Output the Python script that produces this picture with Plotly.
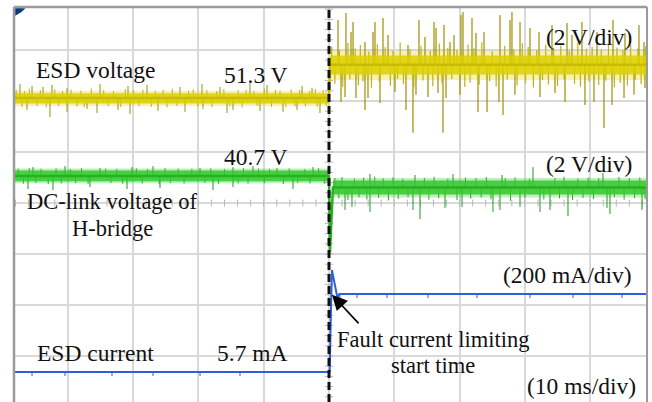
import plotly.graph_objects as go

# ---------------- time base (ms, fault at t = 0, 10 ms/div) ----------------
T_START, T_END = -48.24, 48.70

# ---------------- ESD voltage (2 V/div) ----------------
esd_v_level = [51.3, 52.6]                 # before / after fault
esd_v_core_before = [51.08, 51.48]
esd_v_core_after = [52.22, 52.96]
esd_v_fuzz_before = [50.98, 51.58]
esd_v_fuzz_after = [52.00, 53.15]
# large excursions
esd_v_spk_t_before = [-47.32, -45.48, -43.80, -42.42, -40.12, -35.07, -30.78, -27.87, -22.82,
                      -19.45, -16.69, -12.10, -9.49, -4.13, -2.60,
                      -46.25, -42.73, -40.12, -37.06, -35.53, -32.31, -30.47, -26.19, -22.05,
                      -19.30, -15.62, -14.70, -10.57, -7.04, -4.90, -1.38]
esd_v_spk_v_before = [51.85, 51.77, 51.73, 51.81, 51.69, 51.85, 51.77, 51.81, 51.73,
                      51.85, 51.73, 51.89, 51.81, 51.77, 51.69,
                      50.83, 50.55, 50.75, 50.87, 50.71, 50.83, 50.67, 50.79, 50.75,
                      50.87, 50.71, 50.83, 50.79, 50.75, 50.83, 50.71]
esd_v_spk_t_after = [1.38, 2.60, 3.37, 3.68, 5.51, 6.74, 7.04, 8.27, 9.04, 12.10, 13.78, 14.70,
                     16.08, 16.39, 17.61, 18.53, 19.14, 20.21, 20.52, 21.90, 22.51, 23.74,
                     26.19, 27.72, 28.02, 29.25, 30.78, 32.16, 34.15, 36.45, 37.21, 38.74,
                     41.04, 43.49, 45.33, 47.47, 48.24,
                     1.84, 2.45, 4.13, 5.51, 5.97, 7.81, 10.11, 11.79, 12.86, 13.32, 15.16,
                     16.69, 17.46, 17.92, 20.06, 22.82, 24.20, 26.03, 26.65, 28.48, 32.31,
                     34.61, 36.14, 39.20, 40.58, 42.11, 43.34, 45.18, 46.71, 48.39]
esd_v_spk_v_after = [54.36, 54.63, 53.89, 54.28, 53.49, 53.89, 54.28, 54.43, 53.77, 53.38, 54.36, 53.69,
                     54.28, 54.04, 54.16, 53.49, 53.77, 54.55, 54.67, 54.43, 53.85, 53.89,
                     54.55, 54.36, 54.67, 54.28, 54.04, 53.89, 54.16, 54.24, 53.77, 54.28,
                     53.89, 54.36, 53.85, 54.16, 53.49,
                     51.14, 51.34, 51.30, 50.83, 51.30, 51.10, 51.53, 50.83, 49.93, 51.42, 51.34,
                     51.49, 49.93, 51.30, 51.42, 50.75, 50.75, 51.14, 50.63, 51.42, 51.34,
                     51.49, 51.14, 51.02, 51.14, 50.12, 51.02, 51.30, 51.42, 51.69]
# smaller excursions
esd_v_mid_t_before = [-47.9, -47.0, -46.6, -45.9, -44.7, -44.2, -43.3, -42.0, -41.4, -40.8,
                      -39.5, -38.6, -38.0, -37.5, -36.4, -34.5, -33.8, -33.0, -31.9, -31.2,
                      -29.9, -29.1, -28.5, -27.2, -26.6, -25.4, -24.8, -24.0, -23.3, -21.5,
                      -20.8, -20.1, -18.7, -17.9, -17.2, -16.1, -15.2, -13.9, -13.3, -12.7,
                      -11.5, -11.0, -9.9, -8.8, -8.2, -7.5, -6.6, -5.8, -5.2, -4.5,
                      -3.6, -3.0, -2.1, -1.8, -0.9, -0.4]
esd_v_mid_v_before = [51.62, 50.95, 51.58, 51.66, 50.98, 51.60, 50.93, 51.64, 50.99, 51.57,
                      51.63, 50.96, 51.59, 50.92, 51.67, 51.61, 50.97, 51.56, 50.94, 51.65,
                      51.60, 50.98, 51.63, 50.95, 51.58, 51.62, 50.93, 51.66, 50.99, 51.59,
                      51.64, 50.96, 51.61, 50.94, 51.57, 51.65, 50.97, 51.60, 50.92, 51.63,
                      51.58, 50.98, 51.66, 50.95, 51.62, 51.59, 50.93, 51.64, 50.97, 51.61,
                      50.96, 51.57, 51.65, 50.94, 51.60, 50.99]
esd_v_mid_t_after = [0.4, 0.9, 1.6, 2.1, 2.9, 3.2, 4.0, 4.5, 4.8, 5.2, 6.1, 6.5, 7.4, 7.7,
                     8.6, 9.4, 9.8, 10.5, 10.9, 11.4, 12.4, 13.0, 14.1, 14.4, 15.5, 15.9,
                     16.9, 17.3, 18.2, 18.8, 19.6, 20.8, 21.3, 21.6, 22.2, 23.0, 23.4, 24.6,
                     25.0, 25.6, 26.9, 27.3, 28.3, 28.8, 29.6, 30.1, 30.5, 31.3, 31.8, 32.7,
                     33.2, 33.6, 34.4, 35.0, 35.5, 36.0, 36.8, 37.6, 38.1, 38.5, 39.4, 39.8,
                     40.3, 41.3, 41.7, 42.4, 42.8, 43.7, 44.1, 44.6, 45.0, 45.7, 46.2, 46.9,
                     47.3, 47.8, 48.5]
esd_v_mid_v_after = [53.32, 51.86, 53.18, 51.74, 53.45, 52.02, 53.24, 51.80, 53.38, 51.95, 53.12, 51.70,
                     53.41, 51.92, 53.29, 51.78, 53.16, 52.05, 53.47, 51.84, 53.22, 51.72,
                     53.35, 51.98, 53.14, 51.76, 53.43, 51.88, 53.27, 52.04, 53.19, 51.73,
                     53.39, 51.90, 53.25, 51.82, 53.48, 51.96, 53.13, 51.75, 53.34, 52.01,
                     53.21, 51.79, 53.44, 51.87, 53.30, 51.71, 53.17, 51.99, 53.40, 51.83,
                     53.26, 51.77, 53.36, 52.03, 53.15, 51.85, 53.46, 51.74, 53.23, 51.94,
                     53.31, 51.81, 53.20, 51.97, 53.42, 51.72, 53.28, 51.89, 53.18, 51.78,
                     53.37, 52.00, 53.24, 51.84, 53.33]

# ---------------- DC-link voltage of the H-bridge (2 V/div) ----------------
dc_t = [T_START, 0.0, 0.15, 0.6, T_END]
dc_v = [40.7, 40.7, 37.7, 40.25, 40.25]
dc_core_before = [40.49, 40.92]
dc_core_after = [39.98, 40.52]
dc_fuzz_before = [40.42, 40.99]
dc_fuzz_after = [39.86, 40.62]
dc_spk_t_before = [-45.33, -40.43, -35.07, -30.17, -26.95, -19.75, -14.70, -11.64, -7.96, -2.45,
                   -46.09, -42.27, -36.60, -30.93, -25.88, -17.76, -14.70, -5.51]
dc_spk_v_before = [41.05, 41.09, 41.01, 41.05, 41.09, 41.01, 41.05, 41.09, 41.01, 41.05,
                   40.19, 40.15, 40.27, 40.19, 40.23, 40.15, 40.27, 40.19]
dc_spk_t_after = [6.28, 13.17, 18.99, 26.49, 31.24, 41.96,
                  2.45, 3.52, 6.28, 12.86, 13.94, 17.76, 20.37, 25.11, 26.19, 29.25, 32.31,
                  33.84, 36.60, 42.57, 43.03, 47.93]
dc_spk_v_after = [40.78, 40.74, 40.78, 40.74, 41.05, 40.82,
                  39.37, 39.49, 39.29, 39.37, 39.01, 39.45, 39.49, 39.29, 39.37, 39.49, 39.29,
                  39.37, 39.13, 39.45, 39.21, 39.37]
dc_mid_t_before = [-47.6, -46.8, -45.9, -44.9, -44.1, -43.0, -41.8, -41.0, -39.6, -38.8,
                   -37.9, -36.9, -34.2, -33.4, -32.5, -31.6, -29.5, -28.6, -27.8, -26.0,
                   -25.1, -24.3, -23.1, -22.2, -21.0, -19.0, -18.1, -16.9, -16.0, -13.9,
                   -13.1, -12.4, -10.8, -9.9, -9.1, -7.0, -6.1, -4.8, -3.7, -2.9, -1.6, -0.7]
dc_mid_v_before = [40.99, 40.40, 41.01, 40.43, 40.98, 40.38, 41.00, 40.41, 40.97, 40.42,
                   41.01, 40.39, 40.99, 40.43, 40.98, 40.40, 41.00, 40.41, 40.97, 40.38,
                   41.01, 40.42, 40.99, 40.40, 40.98, 40.43, 41.00, 40.39, 40.97, 40.41,
                   41.01, 40.40, 40.99, 40.42, 40.98, 40.38, 41.00, 40.43, 40.97, 40.41,
                   41.01, 40.40]
dc_mid_t_after = [0.9, 1.5, 2.0, 2.9, 3.9, 4.6, 5.3, 5.8, 7.0, 7.6, 8.3, 9.1, 9.8, 10.6,
                  11.3, 12.1, 14.6, 15.3, 16.1, 16.8, 18.2, 19.6, 20.9, 21.7, 22.5, 23.3,
                  24.1, 24.8, 27.0, 27.8, 28.5, 30.0, 30.7, 32.9, 34.6, 35.3, 36.0, 37.3,
                  38.1, 38.9, 39.7, 40.5, 41.3, 43.7, 44.4, 45.2, 46.0, 46.8, 47.6, 48.4]
dc_mid_v_after = [40.62, 39.82, 40.66, 39.76, 40.60, 39.86, 40.64, 39.78, 40.68, 39.84,
                  40.61, 39.74, 40.65, 39.80, 40.59, 39.87, 40.63, 39.77, 40.67, 39.83,
                  40.60, 39.75, 40.64, 39.81, 40.62, 39.86, 40.66, 39.79, 40.61, 39.73,
                  40.65, 39.85, 40.59, 39.78, 40.63, 39.82, 40.67, 39.76, 40.60, 39.84,
                  40.64, 39.80, 40.62, 39.87, 40.66, 39.77, 40.61, 39.83, 40.65, 39.79]

# ---------------- ESD current (200 mA/div) ----------------
cur_t = [T_START, 0.1, 0.3, 0.45, 0.8, 1.3, 1.6, T_END]
cur_i = [5.7, 5.7, 250, 406, 360, 296, 311.7, 311.7]
cur_spk_t_before = [-45.48, -40.43, -33.23, -26.95, -19.75, -13.63]
cur_spk_i_before = [-10.0, -10.0, -10.0, -10.0, -10.0, -10.0]
cur_spk_t_after = [1.68, 4.29, 8.88, 15.16, 22.66, 30.78, 37.37, 44.87]
cur_spk_i_after = [295.9, 295.9, 295.9, 295.9, 295.9, 295.9, 295.9, 295.9]

# scope screen: divisions visible on the vertical axis
DIV_LO, DIV_HI = -3.902, 3.843
SPAN = DIV_HI - DIV_LO


def channel_range(level, level_div, per_div):
    lo = level - (level_div - DIV_LO) * per_div
    return [lo, lo + SPAN * per_div]


def spikes(ts, vs, base):
    x, y = [], []
    for t, v in zip(ts, vs):
        x += [t, t, None]
        y += [base, v, None]
    return x, y


def band(t0, t1, lo_hi, color, yaxis, opacity=1.0):
    lo, hi = lo_hi
    return go.Scatter(x=[t0, t1, t1, t0, t0], y=[lo, lo, hi, hi, lo], mode="lines",
                      fill="toself", fillcolor=color, line=dict(width=0),
                      opacity=opacity, yaxis=yaxis, hoverinfo="skip")


def spike_trace(ts, vs, base, color, width, yaxis, opacity=1.0):
    sx, sy = spikes(ts, vs, base)
    return go.Scatter(x=sx, y=sy, mode="lines", line=dict(color=color, width=width),
                      opacity=opacity, yaxis=yaxis, hoverinfo="skip")


YEL, YEL_M, YEL_D = "#ddd000", "#c2b400", "#9e8f00"
GRN, GRN_M, GRN_D = "#33c82b", "#27b020", "#1e9a1a"
BLU = "#2f5fdc"

fig = go.Figure()

# minor ticks along the screen centre lines
tick_x = [k * 2 for k in range(-24, 25)]
fig.add_trace(go.Scatter(x=tick_x, y=[0] * len(tick_x), mode="markers",
                         marker=dict(symbol="line-ns", size=5, line=dict(color="#b8b8b8", width=1)),
                         hoverinfo="skip"))
tick_y = [k * 0.2 for k in range(-19, 20)]
fig.add_trace(go.Scatter(x=[0] * len(tick_y), y=tick_y, mode="markers",
                         marker=dict(symbol="line-ew", size=6, line=dict(color="#b8b8b8", width=1)),
                         hoverinfo="skip"))

# ESD voltage
fig.add_trace(band(T_START, 0.0, esd_v_fuzz_before, YEL, "y2", 0.3))
fig.add_trace(band(0.15, T_END, esd_v_fuzz_after, YEL, "y2", 0.3))
fig.add_trace(spike_trace(esd_v_spk_t_before, esd_v_spk_v_before, esd_v_level[0], YEL_D, 1, "y2"))
fig.add_trace(spike_trace(esd_v_spk_t_after, esd_v_spk_v_after, esd_v_level[1], YEL_D, 1.2, "y2"))
fig.add_trace(spike_trace(esd_v_mid_t_before, esd_v_mid_v_before, esd_v_level[0], YEL_M, 1, "y2"))
fig.add_trace(spike_trace(esd_v_mid_t_after, esd_v_mid_v_after, esd_v_level[1], YEL_M, 1.2, "y2"))
fig.add_trace(band(T_START, 0.0, esd_v_core_before, YEL, "y2", 0.85))
fig.add_trace(band(0.15, T_END, esd_v_core_after, YEL, "y2", 0.85))
fig.add_trace(go.Scatter(x=[T_START, 0.0, 0.15, T_END],
                         y=[esd_v_level[0], esd_v_level[0], esd_v_level[1], esd_v_level[1]],
                         mode="lines", line=dict(color="#c9bb00", width=2.5), yaxis="y2"))

# DC-link voltage
fig.add_trace(band(T_START, 0.0, dc_fuzz_before, GRN, "y3", 0.3))
fig.add_trace(band(0.6, T_END, dc_fuzz_after, GRN, "y3", 0.3))
fig.add_trace(spike_trace(dc_spk_t_before, dc_spk_v_before, dc_v[0], GRN_D, 1, "y3"))
fig.add_trace(spike_trace(dc_spk_t_after, dc_spk_v_after, dc_v[-1], GRN_D, 1, "y3"))
fig.add_trace(spike_trace(dc_mid_t_before, dc_mid_v_before, dc_v[0], GRN_M, 1, "y3"))
fig.add_trace(spike_trace(dc_mid_t_after, dc_mid_v_after, dc_v[-1], GRN_M, 1, "y3"))
fig.add_trace(band(T_START, 0.0, dc_core_before, GRN, "y3", 0.85))
fig.add_trace(band(0.6, T_END, dc_core_after, GRN, "y3", 0.85))
fig.add_trace(go.Scatter(x=dc_t, y=dc_v, mode="lines", line=dict(color=GRN_M, width=2.5), yaxis="y3"))

# ESD current
fig.add_trace(spike_trace(cur_spk_t_before, cur_spk_i_before, cur_i[0], BLU, 1, "y4"))
fig.add_trace(spike_trace(cur_spk_t_after, cur_spk_i_after, cur_i[-1], BLU, 1, "y4"))
fig.add_trace(go.Scatter(x=cur_t, y=cur_i, mode="lines", line=dict(color=BLU, width=2), yaxis="y4"))

FONT = dict(family="Liberation Serif, Times New Roman, serif", size=23.5, color="#111111")
FONT_SM = dict(FONT, size=22.5)
labels = [
    ("ESD voltage", -35.83, 2.61, FONT),
    ("51.3 V", -11.18, 2.51, FONT),
    ("40.7 V", -11.18, 0.90, FONT),
    ("DC-link voltage of", -33.23, 0.02, FONT_SM),
    ("H-bridge", -33.23, -0.50, FONT_SM),
    ("ESD current", -35.83, -2.94, FONT),
    ("5.7 mA", -11.64, -2.94, FONT),
    ("(2 V/div)", 39.82, 3.25, FONT),
    ("(2 V/div)", 39.82, 0.76, FONT),
    ("(200 mA/div)", 36.60, -1.41, FONT),
    ("Fault current limiting", 15.93, -2.67, FONT_SM),
    ("start time", 15.93, -3.18, FONT_SM),
    ("(10 ms/div)", 38.74, -3.59, FONT),
]
annotations = [dict(text=txt, x=x, y=y, xref="x", yref="y", showarrow=False, font=fnt,
                    align="center", xanchor="center", yanchor="middle")
               for txt, x, y, fnt in labels]
annotations.append(dict(text="", x=0.46, y=-1.80, ax=4.75, ay=-2.39, xref="x", yref="y",
                        axref="x", ayref="y", showarrow=True, arrowhead=2, arrowsize=1.9,
                        arrowwidth=1.6, arrowcolor="#000000"))

fig.update_layout(
    width=652, height=402,
    margin=dict(l=14, r=5, t=7, b=0),
    paper_bgcolor="white", plot_bgcolor="white",
    showlegend=False,
    xaxis=dict(range=[T_START, T_END], dtick=10, tick0=0, showgrid=True, gridcolor="#d9d9d9",
               gridwidth=1.5, zeroline=False, showticklabels=False, ticks="", showline=False),
    yaxis=dict(range=[DIV_LO, DIV_HI], dtick=1, tick0=0, showgrid=True, gridcolor="#d9d9d9",
               gridwidth=1.5, zeroline=False, showticklabels=False, ticks="", showline=False),
    yaxis2=dict(range=channel_range(esd_v_level[0], 2.06, 2.0), overlaying="y", visible=False),
    yaxis3=dict(range=channel_range(dc_v[0], 0.529, 2.0), overlaying="y", visible=False),
    yaxis4=dict(range=channel_range(cur_i[0], -3.314, 200.0), overlaying="y", visible=False),
    annotations=annotations,
    shapes=[
        # screen frame (left, top, right)
        dict(type="line", xref="paper", yref="paper", x0=0, x1=0, y0=0, y1=1,
             line=dict(color="#9a9a9a", width=2.5)),
        dict(type="line", xref="paper", yref="paper", x0=0, x1=1, y0=1, y1=1,
             line=dict(color="#9a9a9a", width=2.5)),
        dict(type="line", xref="paper", yref="paper", x0=1, x1=1, y0=0, y1=1,
             line=dict(color="#9a9a9a", width=2)),
        # fault instant
        dict(type="line", xref="x", yref="paper", x0=0, x1=0, y0=0, y1=1,
             line=dict(color="#111111", width=3, dash="8px,4px")),
        # channel marker in the corner
        dict(type="path", xref="paper", yref="paper",
             path="M 0.002,0.997 L 0.018,0.997 Q 0.012,0.985 0.002,0.978 Z",
             fillcolor="#0d3b78", line=dict(width=0)),
    ],
)

fig.write_html("out.html")
